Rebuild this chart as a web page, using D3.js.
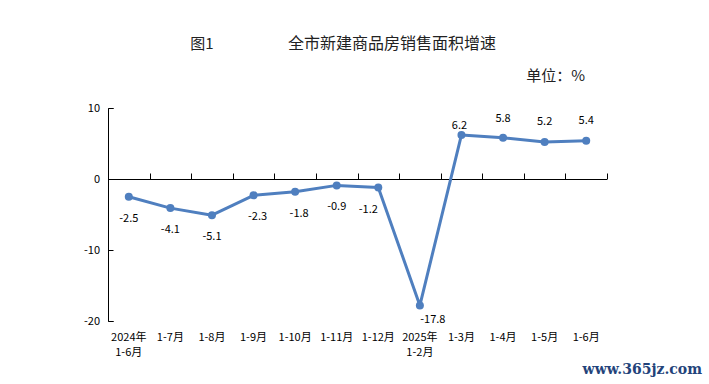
<!DOCTYPE html>
<html><head><meta charset="utf-8">
<script src="https://cdn.jsdelivr.net/npm/d3@7"></script>
<style>body{margin:0;background:#fff}svg{display:block}</style>
</head><body><svg id="c" width="709" height="384"></svg>
<script>
const categories = ["2024年\n1-6月","1-7月","1-8月","1-9月","1-10月","1-11月","1-12月","2025年\n1-2月","1-3月","1-4月","1-5月","1-6月"];
const values = [-2.5,-4.1,-5.1,-2.3,-1.8,-0.9,-1.2,-17.8,6.2,5.8,5.2,5.4];
const yTicks = [10,0,-10,-20];
const titleLeft = "图1";
const titleMain = "全市新建商品房销售面积增速";
const unitText = "单位：%";
const watermark = "www.365jz.com";

// label placement (layout, not data)
const labelDx = [0,0,0,4,4,0,-10,13,-2,0,0,0];
const labelDy = [21,21,21,21,21,21,21,14,-10,-20,-21,-21];

const svg = d3.select("#c");
const font = "'Noto Sans CJK SC', 'Noto Sans', sans-serif";
const x = d3.scaleBand().domain(categories).range([108, 607]);
const y = d3.scaleLinear().domain([-20, 10]).range([321, 108]);
const color = "#4f7fbf";

svg.append("text").attr("x", 202).attr("y", 49).attr("text-anchor","middle")
  .attr("font-family", font).attr("font-size", 15).attr("fill","#222").text(titleLeft);
svg.append("text").attr("x", 392).attr("y", 49).attr("text-anchor","middle")
  .attr("font-family", font).attr("font-size", 16).attr("fill","#222").text(titleMain);
svg.append("text").attr("x", 585).attr("y", 81).attr("text-anchor","end")
  .attr("font-family", font).attr("font-size", 15).attr("fill","#222").text(unitText);

// y axis
const yAxis = d3.axisRight(y).tickValues(yTicks).tickSize(5).tickFormat("");
const gy = svg.append("g").attr("transform","translate(108.5,0)").call(yAxis);
gy.select(".domain").attr("d", `M5,${y(10)+0.5}H0V${y(-20)+0.5}H5`).attr("stroke","#000");
gy.selectAll(".tick line").attr("stroke","#000");
svg.append("g").selectAll("text").data(yTicks).join("text")
  .attr("x", 100).attr("y", d => y(d) + 4).attr("text-anchor","end")
  .attr("font-family", font).attr("font-size", 11).attr("fill","#000").text(d => d);

// x axis at zero
const y0 = Math.round(y(0)) + 0.5;
const gx = svg.append("g");
gx.append("line").attr("x1",108).attr("x2",607).attr("y1",y0).attr("y2",y0).attr("stroke","#000");
const edges = categories.map(c => x(c) + x.bandwidth());
gx.selectAll("line.t").data(edges).join("line").attr("class","t")
  .attr("x1", d => Math.round(d)+0.5).attr("x2", d => Math.round(d)+0.5)
  .attr("y1", y0).attr("y2", y0 - 6).attr("stroke","#000");

// category labels
const cl = svg.append("g");
categories.forEach(c => {
  const lines = c.split("\n");
  const t = cl.append("text").attr("x", x(c) + x.bandwidth()/2).attr("y", 341)
    .attr("text-anchor","middle").attr("font-family", font).attr("font-size", 11).attr("fill","#000");
  lines.forEach((l,i) => t.append("tspan").attr("x", x(c) + x.bandwidth()/2).attr("dy", i ? 15 : 0).text(l));
});

// line
const cx = (d,i) => x(categories[i]) + x.bandwidth()/2;
svg.append("path").datum(values)
  .attr("d", d3.line().x(cx).y(d => y(d)))
  .attr("fill","none").attr("stroke", color).attr("stroke-width", 3).attr("stroke-linejoin","round");
svg.append("g").selectAll("circle").data(values).join("circle")
  .attr("cx", cx).attr("cy", d => y(d)).attr("r", 4).attr("fill", color);

// value labels
svg.append("g").selectAll("text").data(values).join("text")
  .attr("x", (d,i) => cx(d,i) + labelDx[i]).attr("y", (d,i) => y(d) + labelDy[i] + 4)
  .attr("text-anchor","middle").attr("font-family", font).attr("font-size", 11).attr("fill","#000")
  .text(d => d.toFixed(1));

svg.append("text").attr("x", 702).attr("y", 374).attr("text-anchor","end")
  .attr("font-family","'DejaVu Serif', serif").attr("font-weight","bold").attr("font-size", 14)
  .attr("fill","#23437a").text(watermark);
</script></body></html>
